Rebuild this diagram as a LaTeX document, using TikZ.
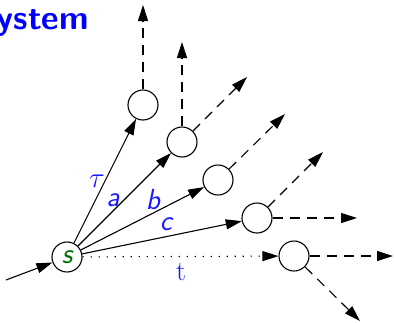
\documentclass[tikz,border=0pt]{standalone}
\usepackage{fontspec}
\usetikzlibrary{arrows.meta}
\definecolor{labblue}{RGB}{25,25,255}
\definecolor{srcgreen}{RGB}{0,110,0}
\tikzset{
  state/.style  = {circle,draw,line width=1.1pt,minimum size=30pt,inner sep=0pt},
  move/.style   = {-{Triangle[length=16pt,width=10pt]},line width=1.1pt},
  succ/.style   = {move,dash pattern=on 10pt off 7pt},
  silent/.style = {move,dash pattern=on 1.4pt off 6.6pt},
  lab/.style    = {font=\fontsize{29}{33}\selectfont\sffamily\itshape,text=labblue}
}

\begin{document}
\begin{tikzpicture}[x=1pt,y=-1pt]
  \useasboundingbox (0,0) rectangle (394,322);
  \node[anchor=base east,inner xsep=0pt,text=blue,font=\fontsize{34}{40}\selectfont\sffamily\bfseries] (title) at (89,29) {System};
  % source state and its successors
  \node[state] (s)    at (67,257)  {\textcolor{srcgreen}{\fontsize{29}{33}\selectfont\sffamily\itshape s}};
  \node[state] (ntau) at (143,105) {};
  \node[state] (na)   at (182,142) {};
  \node[state] (nb)   at (218,180) {};
  \node[state] (nc)   at (257,218) {};
  \node[state] (nt)   at (294,256) {};
  \coordinate (in) at (6,280);
  \draw[move] (in) -- (s);
  \draw[move] (s) -- (ntau);
  \draw[move] (s) -- (na);
  \draw[move] (s) -- (nb);
  \draw[move] (s) -- (nc);
  \draw[silent] (s) -- (nt);
  \node[text=labblue,scale=1.17,font=\fontsize{24.88}{30}\selectfont] (ltau) at (97,181) {$\tau$};
  \node[lab] (la) at (113,200) {a};
  \node[lab] (lb) at (153,200) {b};
  \node[lab] (lc) at (166,224) {c};
  \node[text=labblue,font=\fontsize{28}{32}\selectfont\rmfamily] (lt) at (181,272) {t};
  % further moves
  \coordinate (tau1) at (143,5);
  \coordinate (a1)   at (182,42);
  \coordinate (a2)   at (247,77);
  \coordinate (b1)   at (285,114);
  \coordinate (c1)   at (323,152);
  \coordinate (c2)   at (357,218);
  \coordinate (t1)   at (393,256);
  \coordinate (t2)   at (360,321);
  \draw[succ] (ntau) -- (tau1);
  \draw[succ] (na) -- (a1);
  \draw[succ] (na) -- (a2);
  \draw[succ] (nb) -- (b1);
  \draw[succ] (nc) -- (c1);
  \draw[succ] (nc) -- (c2);
  \draw[succ] (nt) -- (t1);
  \draw[succ] (nt) -- (t2);
\end{tikzpicture}
\end{document}
